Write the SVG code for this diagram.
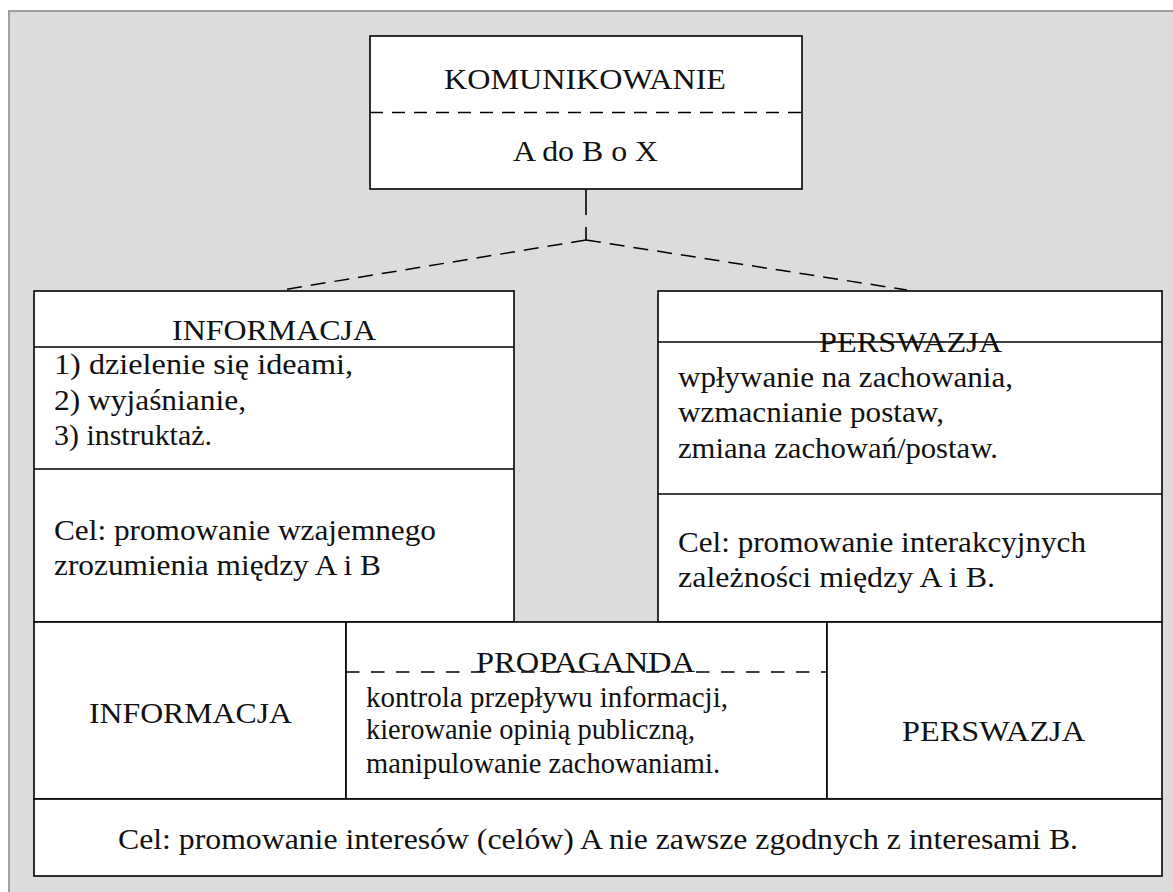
<svg xmlns="http://www.w3.org/2000/svg" width="1173" height="892" viewBox="0 0 1173 892">
<style>
.bx{fill:#fff;stroke:#000;stroke-width:1.6}
.ln{stroke:#000;stroke-width:1.6;fill:none}
.dl{stroke:#000;stroke-width:1.6;fill:none;stroke-dasharray:13 9}
.cn{stroke:#000;stroke-width:1.5;fill:none;stroke-dasharray:15 9}
.t{font-family:"Liberation Serif","Times New Roman",serif;font-size:30px;fill:#111}
</style>
<rect x="9" y="11" width="1200" height="1000" fill="#dcdcdc" stroke="#a0a0a0" stroke-width="2"/>
<g id="connectors">
<path class="ln" d="M586 189 V240" stroke-dasharray="26 12 13 100"/>
<path class="cn" d="M586 240 L282 290"/>
<path class="cn" d="M586 240 L907 290"/>
</g>
<g id="komunikowanie">
<rect class="bx" x="370" y="36" width="432" height="153"/>
<line class="dl" x1="370" y1="112.5" x2="802" y2="112.5"/>
<text class="t" x="444" y="89" textLength="282" lengthAdjust="spacingAndGlyphs">KOMUNIKOWANIE</text>
<text class="t" x="513" y="161" textLength="145" lengthAdjust="spacingAndGlyphs">A do B o X</text>
</g>
<g id="informacja">
<rect class="bx" x="34" y="291" width="480" height="331"/>
<line class="ln" x1="34" y1="347" x2="514" y2="347"/>
<line class="ln" x1="34" y1="469" x2="514" y2="469"/>
<text class="t" x="172" y="340" textLength="204" lengthAdjust="spacingAndGlyphs">INFORMACJA</text>
<text class="t" x="54" y="374" textLength="299" lengthAdjust="spacingAndGlyphs">1) dzielenie się ideami,</text>
<text class="t" x="54" y="410" textLength="192" lengthAdjust="spacingAndGlyphs">2) wyjaśnianie,</text>
<text class="t" x="54" y="445" textLength="158" lengthAdjust="spacingAndGlyphs">3) instruktaż.</text>
<text class="t" x="54" y="540" textLength="382" lengthAdjust="spacingAndGlyphs">Cel: promowanie wzajemnego</text>
<text class="t" x="54" y="575" textLength="327" lengthAdjust="spacingAndGlyphs">zrozumienia między A i B</text>
</g>
<g id="perswazja">
<rect class="bx" x="658" y="291" width="504" height="331"/>
<text class="t" x="819" y="352" textLength="183" lengthAdjust="spacingAndGlyphs">PERSWAZJA</text>
<line class="ln" x1="658" y1="342" x2="1162" y2="342"/>
<line class="ln" x1="658" y1="494" x2="1162" y2="494"/>
<text class="t" x="678" y="387" textLength="335" lengthAdjust="spacingAndGlyphs">wpływanie na zachowania,</text>
<text class="t" x="678" y="422" textLength="266" lengthAdjust="spacingAndGlyphs">wzmacnianie postaw,</text>
<text class="t" x="678" y="458" textLength="320" lengthAdjust="spacingAndGlyphs">zmiana zachowań/postaw.</text>
<text class="t" x="678" y="552" textLength="408" lengthAdjust="spacingAndGlyphs">Cel: promowanie interakcyjnych</text>
<text class="t" x="678" y="587" textLength="317" lengthAdjust="spacingAndGlyphs">zależności między A i B.</text>
</g>
<g id="bottom-informacja">
<rect class="bx" x="34" y="622" width="312" height="177"/>
<text class="t" x="89" y="723" textLength="203" lengthAdjust="spacingAndGlyphs">INFORMACJA</text>
</g>
<g id="propaganda">
<rect class="bx" x="346" y="622" width="481" height="177"/>
<line class="dl" x1="346" y1="672" x2="827" y2="672" style="stroke-dasharray:13.5 11.5"/>
<text class="t" x="476" y="672" textLength="219" lengthAdjust="spacingAndGlyphs">PROPAGANDA</text>
<text class="t" x="366" y="707" textLength="362" lengthAdjust="spacingAndGlyphs">kontrola przepływu informacji,</text>
<text class="t" x="366" y="739" textLength="329" lengthAdjust="spacingAndGlyphs">kierowanie opinią publiczną,</text>
<text class="t" x="366" y="773" textLength="354" lengthAdjust="spacingAndGlyphs">manipulowanie zachowaniami.</text>
</g>
<g id="bottom-perswazja">
<rect class="bx" x="827" y="622" width="335" height="177"/>
<text class="t" x="902" y="741" textLength="183" lengthAdjust="spacingAndGlyphs">PERSWAZJA</text>
</g>
<g id="cel">
<rect class="bx" x="34" y="799" width="1128" height="77"/>
<text class="t" x="118" y="849" textLength="960" lengthAdjust="spacingAndGlyphs">Cel: promowanie interesów (celów) A nie zawsze zgodnych z interesami B.</text>
</g>
</svg>
